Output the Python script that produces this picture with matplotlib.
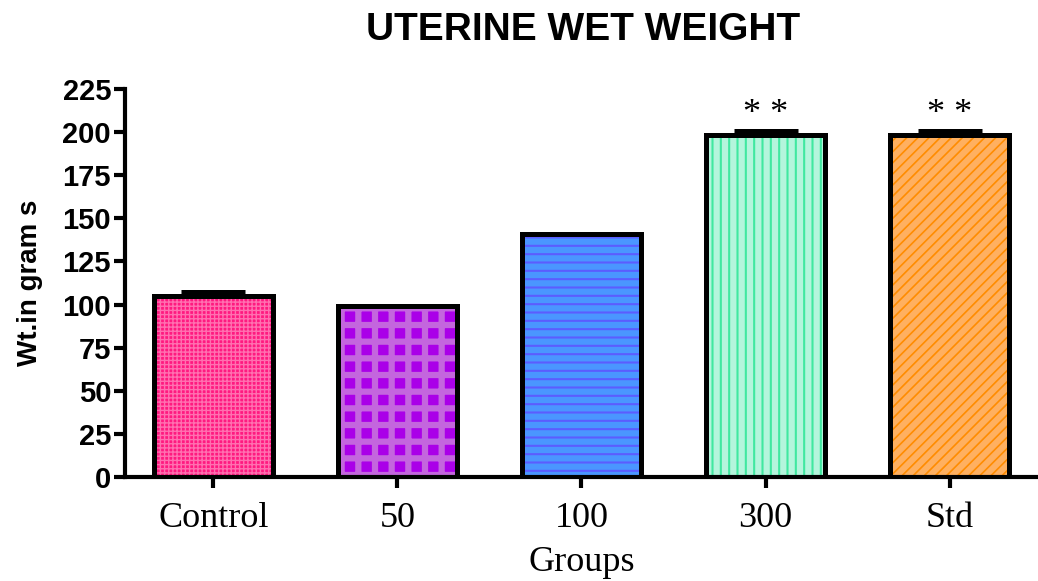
# ---------------------------------------------------------------------------------------------- #
# Uterine wet weight bar chart.
# ---------------------------------------------------------------------------------------------- #
import matplotlib.pyplot as plt
import numpy as np

# We define each data set.
Groups = ['Control', '50', '100', '300', 'Std']
Weights = [105, 99, 141, 198, 198]
SEM = [2, 0, 0, 2.5, 2.5]
Stars = ['', '', '', '* *', '* *']
YTicks = [0, 25, 50, 75, 100, 125, 150, 175, 200, 225]

# We define plot properties.
FaceColors = ['#ff1a80', '#aa00e8', '#4a96ff', '#b4f5dc', '#ffb060']
HatchColors = ['#ff70b0', '#c466de', '#5c5cff', '#40e8a0', '#ff8c00']
Hatches = ['++++', '+', '--', '||', '///']
HatchWidths = [1.0, 4.5, 1.5, 1.5, 1.2]
SerifFont = 'Liberation Serif'
SansFont = 'Liberation Sans'

# We plot.
fig = plt.figure(figsize = (10.38, 5.81), dpi = 100)
ax = fig.add_axes([0.1204, 0.179, 0.8796, 0.668])
x = np.arange(len(Groups))
for i in range(len(Groups)):
    with plt.rc_context({'hatch.linewidth': HatchWidths[i]}):
        bars = ax.bar(x[i], Weights[i], width = 0.65, color = FaceColors[i], edgecolor = HatchColors[i],
                      hatch = Hatches[i], linewidth = 0, zorder = 2)
    for b in bars:
        if hasattr(b, 'set_hatch_linewidth'):
            b.set_hatch_linewidth(HatchWidths[i])
ax.bar(x, Weights, width = 0.65, fill = False, edgecolor = 'black', linewidth = 3.6, zorder = 3)
ax.errorbar(x, Weights, yerr = [np.zeros(len(SEM)), SEM], fmt = 'none', ecolor = 'black',
            elinewidth = 3, capsize = 23, capthick = 3.6, zorder = 4)
for i in range(len(Groups)):
    if Stars[i]:
        ax.text(x[i], Weights[i] + SEM[i], Stars[i], ha = 'center', va = 'bottom',
                fontsize = 26, fontname = SerifFont)

# We configure.
ax.set_xlim([-0.48, 4.48])
ax.set_ylim([0, 225])
ax.set_xticks(x)
ax.set_xticklabels(Groups, fontsize = 26, fontname = SerifFont)
ax.set_yticks(YTicks)
ax.set_yticklabels([str(v) for v in YTicks], fontsize = 21, fontname = SansFont, fontweight = 'bold')
ax.tick_params(axis = 'both', direction = 'out', length = 8, width = 3, colors = 'black')
ax.tick_params(axis = 'x', pad = 10)
ax.tick_params(axis = 'y', pad = 2)
for side in ['top', 'right']:
    ax.spines[side].set_visible(False)
for side in ['left', 'bottom']:
    ax.spines[side].set_linewidth(3)
ax.set_xlabel('Groups', fontsize = 26, fontname = SerifFont, labelpad = 8)
ax.set_ylabel('Wt.in gram s', fontsize = 20, fontname = SansFont, fontweight = 'bold', labelpad = 14)
fig.text(0.562, 0.948, 'UTERINE WET WEIGHT', ha = 'center', va = 'center',
         fontsize = 28, fontname = SansFont, fontweight = 'bold')

# We save.
fig.savefig('out.png', dpi = 100)
